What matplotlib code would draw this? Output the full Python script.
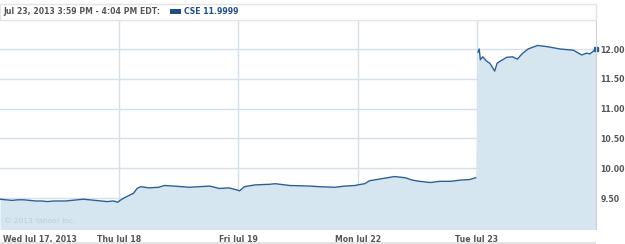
import numpy as np
import matplotlib
matplotlib.use('Agg')
import matplotlib.pyplot as plt
from matplotlib.patches import Rectangle

# day labels on the x axis (one trading day = 1 unit)
day_labels = ['Wed Jul 17, 2013', 'Thu Jul 18', 'Fri Jul 19', 'Mon Jul 22', 'Tue Jul 23']
y_ticks = [9.50, 10.00, 10.50, 11.00, 11.50, 12.00]

# price, position in days since Wed open
t_old = [0.00, 0.05, 0.10, 0.15, 0.20, 0.25, 0.30, 0.35, 0.40, 0.45, 0.50, 0.55, 0.60, 0.65,
         0.70, 0.75, 0.80, 0.85, 0.90, 0.95, 0.99,
         1.00, 1.04, 1.08, 1.12, 1.15, 1.18, 1.25, 1.33, 1.38, 1.46, 1.59, 1.67, 1.76, 1.84, 1.92, 1.98,
         2.01, 2.05, 2.14, 2.26, 2.31, 2.43, 2.60, 2.68, 2.81, 2.89, 2.98,
         3.00, 3.06, 3.10, 3.19, 3.31, 3.40, 3.46, 3.52, 3.61, 3.69, 3.78, 3.86, 3.94, 3.99]
price_old = [9.48, 9.47, 9.46, 9.47, 9.47, 9.46, 9.45, 9.45, 9.44, 9.45, 9.45, 9.45, 9.46, 9.47,
             9.48, 9.47, 9.46, 9.45, 9.44, 9.45, 9.43,
             9.45, 9.50, 9.54, 9.58, 9.66, 9.69, 9.67, 9.68, 9.71, 9.70, 9.68, 9.69, 9.70, 9.66, 9.67, 9.64,
             9.62, 9.69, 9.72, 9.73, 9.74, 9.71, 9.70, 9.69, 9.68, 9.70, 9.71,
             9.72, 9.74, 9.79, 9.82, 9.86, 9.84, 9.80, 9.78, 9.76, 9.78, 9.78, 9.80, 9.81, 9.84]
t_tue = [4.01, 4.02, 4.03, 4.05, 4.08, 4.11, 4.15, 4.17, 4.20, 4.25, 4.30, 4.34, 4.38, 4.43,
         4.51, 4.59, 4.70, 4.81, 4.88, 4.92, 4.95, 5.00]
price_tue = [11.95, 12.00, 11.82, 11.87, 11.80, 11.76, 11.63, 11.76, 11.80, 11.86, 11.87, 11.83, 11.92, 12.00,
             12.06, 12.04, 12.00, 11.98, 11.90, 11.93, 11.92, 12.00]

line_col = '#2d5f95'
fill_col = '#d6e6f1'
grid_col = '#d5e0ea'
text_col = '#555555'
fs = 5.6

fig = plt.figure(figsize=(6.25, 2.44), dpi=100)
ax = fig.add_axes([0, 15 / 244, 596 / 625, 209 / 244])

ax.fill_between(t_old + t_tue, price_old + price_tue, 8.0, color=fill_col, lw=0)
ax.plot(t_old, price_old, color=line_col, lw=1.0)
ax.plot(t_tue, price_tue, color=line_col, lw=1.0)
ax.plot(t_tue[-1], price_tue[-1], 's', color=line_col, ms=3, clip_on=False)

ax.set_xlim(0, 5)
ax.set_ylim(8.98, 12.487)
for d in range(1, 5):
    ax.axvline(d, color=grid_col, lw=1, zorder=0.5)
for v in y_ticks:
    ax.axhline(v, color=grid_col, lw=1, zorder=0.5)

ax.yaxis.tick_right()
ax.set_yticks(y_ticks)
ax.set_yticklabels(['%.2f' % v for v in y_ticks], fontsize=fs, fontweight='bold', color=text_col)
ax.tick_params(axis='y', length=0, pad=3)
ax.set_xticks([])
for s in ['left', 'top', 'bottom']:
    ax.spines[s].set_visible(False)
ax.spines['right'].set_color('#d0d0d0')

# day labels below the plot
for i, lab in enumerate(day_labels):
    if i == 0:
        ax.text(0.025, -0.03, lab, transform=ax.get_xaxis_transform(), ha='left', va='top',
                fontsize=fs, fontweight='bold', color=text_col)
    else:
        ax.text(i, -0.03, lab, transform=ax.get_xaxis_transform(), ha='center', va='top',
                fontsize=fs, fontweight='bold', color=text_col)

ax.text(0.03, 9.08, '\u00a9 2013 Yahoo! Inc.', fontsize=5.3, color='#bccbd8')

# header box and bottom strip
fig.patches.append(Rectangle((0, 1 - 20 / 244), 596 / 625, 16 / 244, transform=fig.transFigure,
                             facecolor='white', edgecolor='#e4e4e4', lw=1))
fig.patches.append(Rectangle((0, 0), 596 / 625, 2.5 / 244, transform=fig.transFigure,
                             facecolor='#e4e4e4', edgecolor='none'))
fig.text(3 / 625, 1 - 12 / 244, 'Jul 23, 2013 3:59 PM - 4:04 PM EDT:', fontsize=fs,
         fontweight='bold', color=text_col, va='center')
fig.patches.append(Rectangle((170 / 625, 1 - 13.5 / 244), 11 / 625, 4 / 244, transform=fig.transFigure,
                             facecolor='#1f4f8a', edgecolor='none'))
fig.text(184 / 625, 1 - 12 / 244, 'CSE 11.9999', fontsize=fs, fontweight='bold',
         color='#1f4f8a', va='center')

plt.savefig('out.png', dpi=100)
